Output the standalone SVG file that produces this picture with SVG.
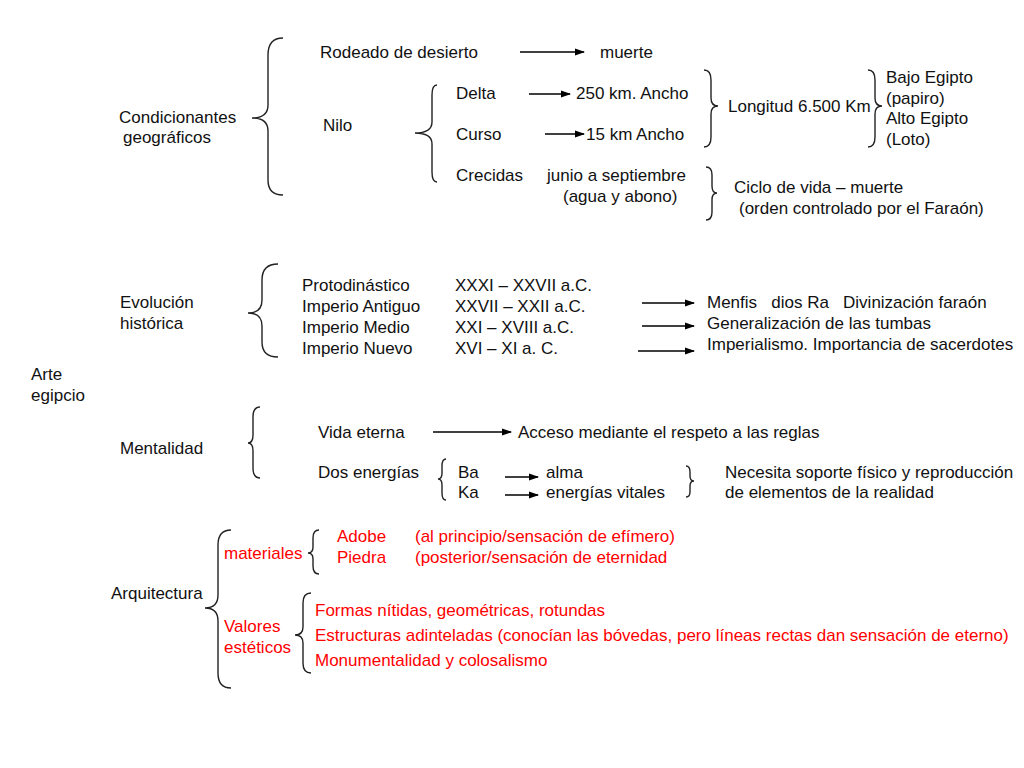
<svg xmlns="http://www.w3.org/2000/svg" width="1024" height="768" viewBox="0 0 1024 768">
<defs>
<marker id="ah" markerWidth="10" markerHeight="8" refX="9" refY="4" orient="auto" markerUnits="userSpaceOnUse">
<path d="M0,0.5 L10,4 L0,7.5 Z" fill="#000"/>
</marker>
<style>
text{font-family:"Liberation Sans",Arial,sans-serif;font-size:17px;fill:#111}
.r{fill:#f00}
.b{fill:none;stroke:#222;stroke-width:1.4}
.a{stroke:#000;stroke-width:1.5;marker-end:url(#ah)}
</style>
</defs>
<rect width="1024" height="768" fill="#fff"/>

<g id="root"><text x="31" y="380">Arte</text><text x="31" y="401">egipcio</text></g>

<g id="condicionantes">
<text x="119" y="123">Condicionantes</text><text x="123" y="143">geográficos</text>
<path class="b" d="M283,38 Q268,38 268,55 L268,105 Q268,118 252,118 Q268,118 268,131 L268,180 Q268,195 283,195"/>
</g>
<g id="rodeado"><text x="320" y="58">Rodeado de desierto</text><text x="600" y="58">muerte</text></g>
<g id="nilo">
<text x="323" y="131">Nilo</text>
<path class="b" d="M437,85 Q432,85 432,95 L432,122 Q432,133 415,133 Q432,133 432,144 L432,172 Q432,182 437,182"/>
<text x="456" y="99">Delta</text><text x="576" y="99">250 km. Ancho</text>
<text x="456" y="140">Curso</text><text x="586" y="140">15 km Ancho</text>
<text x="456" y="181">Crecidas</text><text x="547" y="181">junio a septiembre</text><text x="563" y="202">(agua y abono)</text>
</g>
<g id="longitud">
<path class="b" d="M704,70 Q711,70 711,80 L711,98 Q711,106 718,106 Q711,106 711,114 L711,137 Q711,147 704,147"/>
<text x="728" y="112">Longitud 6.500 Km</text>
<path class="b" d="M868,70 Q875,70 875,80 L875,98 Q875,106 882,106 Q875,106 875,114 L875,137 Q875,147 868,147"/>
<text x="886" y="83">Bajo Egipto</text><text x="886" y="104">(papiro)</text><text x="886" y="124">Alto Egipto</text><text x="886" y="145">(Loto)</text>
</g>
<g id="ciclo">
<path class="b" d="M706,167 Q712,167 712,175 L712,186 Q712,193 717,193 Q712,193 712,200 L712,212 Q712,220 706,220"/>
<text x="734" y="193">Ciclo de vida – muerte</text><text x="739" y="214">(orden controlado por el Faraón)</text>
</g>

<g id="evolucion">
<text x="120" y="308">Evolución</text><text x="120" y="329">histórica</text>
<path class="b" d="M278,264 Q262,264 262,280 L262,300 Q262,313 248,313 Q262,313 262,326 L262,342 Q262,357 278,357"/>
<text x="302" y="291">Protodinástico</text><text x="302" y="312">Imperio Antiguo</text><text x="302" y="333">Imperio Medio</text><text x="302" y="354">Imperio Nuevo</text>
<text x="455" y="291">XXXI – XXVII a.C.</text><text x="455" y="312">XXVII – XXII a.C.</text><text x="455" y="333">XXI – XVIII a.C.</text><text x="455" y="354">XVI – XI a. C.</text>
<text x="707" y="308" xml:space="preserve">Menfis   dios Ra   Divinización faraón</text>
<text x="707" y="329">Generalización de las tumbas</text>
<text x="707" y="350">Imperialismo. Importancia de sacerdotes</text>
</g>

<g id="mentalidad">
<text x="120" y="454">Mentalidad</text>
<path class="b" d="M260,407 Q253,407 253,417 L253,435 Q253,443 248,443 Q253,443 253,451 L253,468 Q253,478 260,478"/>
<text x="318" y="438">Vida eterna</text><text x="518" y="438">Acceso mediante el respeto a las reglas</text>
<text x="318" y="478">Dos energías</text>
<path class="b" d="M446,459 Q442,459 442,466 L442,473 Q442,479 438,479 Q442,479 442,485 L442,493 Q442,500 446,500"/>
<text x="458" y="478">Ba</text><text x="458" y="498">Ka</text>
<text x="546" y="478">alma</text><text x="546" y="498">energías vitales</text>
<path class="b" d="M686,466 Q690,466 690,472 L690,476 Q690,481 694,481 Q690,481 690,486 L690,492 Q690,497 686,497"/>
<text x="725" y="478">Necesita soporte físico y reproducción</text><text x="725" y="498">de elementos de la realidad</text>
</g>

<g id="arquitectura">
<text x="111" y="599">Arquitectura</text>
<path class="b" d="M231,530 Q218,530 218,545 L218,595 Q218,608 205,608 Q218,608 218,621 L218,673 Q218,688 231,688"/>
<text class="r" x="224" y="559">materiales</text>
<path class="b" d="M319,530 Q313,530 313,538 L313,547 Q313,553 308,553 Q313,553 313,559 L313,566 Q313,574 319,574"/>
<text class="r" x="337" y="542">Adobe</text><text class="r" x="337" y="563">Piedra</text>
<text class="r" x="415" y="542">(al principio/sensación de efímero)</text><text class="r" x="415" y="563">(posterior/sensación de eternidad</text>
<text class="r" x="224" y="632">Valores</text><text class="r" x="224" y="653">estéticos</text>
<path class="b" d="M311,593 Q303,593 303,603 L303,627 Q303,635 295,635 Q303,635 303,643 L303,663 Q303,673 311,673"/>
<text class="r" x="315" y="616">Formas nítidas, geométricas, rotundas</text>
<text class="r" x="315" y="641">Estructuras adinteladas (conocían las bóvedas, pero líneas rectas dan sensación de eterno)</text>
<text class="r" x="315" y="666">Monumentalidad y colosalismo</text>
</g>

<g id="connectors">
<line class="a" x1="520" y1="52" x2="584" y2="52"/>
<line class="a" x1="529" y1="94" x2="570" y2="94"/>
<line class="a" x1="545" y1="134" x2="584" y2="134"/>
<line class="a" x1="642" y1="303" x2="694" y2="303"/>
<line class="a" x1="642" y1="326" x2="694" y2="326"/>
<line class="a" x1="638" y1="351" x2="694" y2="351"/>
<line class="a" x1="433" y1="432" x2="511" y2="432"/>
<line class="a" x1="505" y1="477" x2="538" y2="477"/>
<line class="a" x1="505" y1="495" x2="538" y2="495"/>
</g>
</svg>
